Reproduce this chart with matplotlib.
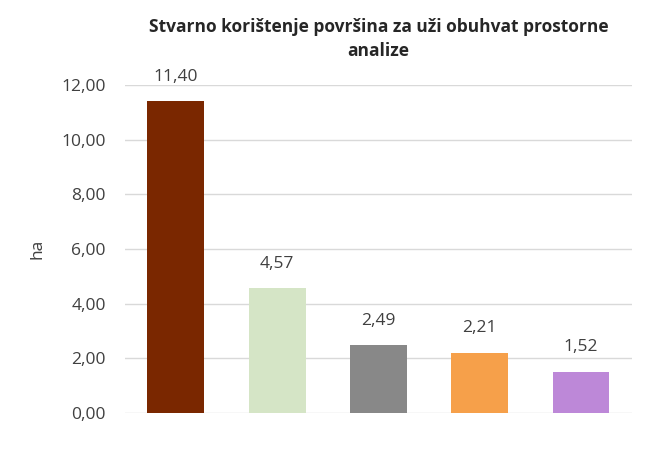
import numpy as np
import matplotlib.pyplot as plt

plt.rcParams['font.family'] = ['Open Sans', 'DejaVu Sans']

values = [11.40, 4.57, 2.49, 2.21, 1.52]
colors = ['#7A2700', '#D5E5C6', '#888888', '#F6A04A', '#BD88D8']
yticks = [0, 2, 4, 6, 8, 10, 12]

fig = plt.figure(figsize=(6.52, 4.5), dpi=100)
ax = fig.add_axes([0.192, 0.082, 0.777, 0.729])

x = np.arange(len(values))
ax.bar(x, values, width=0.56, color=colors, zorder=3)

for xi, v in zip(x, values):
    ax.text(xi, v + 0.6, f'{v:.2f}'.replace('.', ','), ha='center', va='bottom',
            fontsize=12.5, color='#404040')

ax.set_xlim(-0.5, len(values) - 0.5)
ax.set_ylim(0, 12)
ax.set_yticks(yticks)
ax.set_yticklabels([f'{t:.2f}'.replace('.', ',') for t in yticks], fontsize=12.5, color='#404040')
ax.set_xticks([])
ax.tick_params(axis='y', length=0, pad=14)
ax.yaxis.grid(True, color='#D9D9D9', linewidth=1, zorder=0)
for s in ax.spines.values():
    s.set_visible(False)

ax.set_ylabel('ha', fontsize=12.5, color='#404040', labelpad=11)
ax.set_title('Stvarno korištenje površina za uži obuhvat prostorne\nanalize',
             fontsize=12.5, fontweight='bold', color='#262626', pad=21, linespacing=1.45)

fig.savefig('out.png', dpi=100)
